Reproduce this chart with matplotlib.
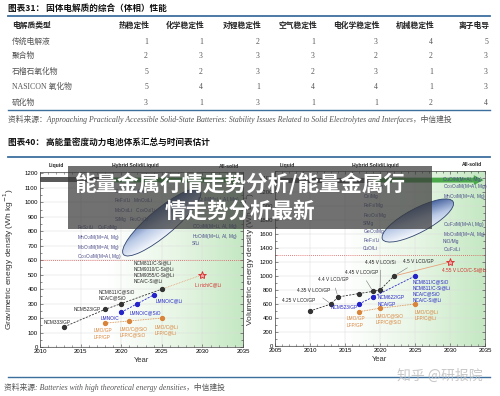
import numpy as np
import matplotlib
matplotlib.use("Agg")
import matplotlib.pyplot as plt
import matplotlib.transforms as mtransforms
from matplotlib.patches import Ellipse, Rectangle, FancyArrow
from matplotlib.colors import LinearSegmentedColormap
from matplotlib.ticker import MultipleLocator

plt.rcParams['font.family'] = ['Noto Sans CJK SC', 'DejaVu Sans']

# tabela 31
table_title = "图表31： 固体电解质的综合（体相）性能"
table_cols = ['热稳定性', '化学稳定性', '对锂稳定性', '空气稳定性', '电化学稳定性', '机械稳定性', '离子电导']
table_rows = ['传统电解液', '聚合物', '石榴石氧化物', 'NASICON 氧化物', '硫化物']
table_vals = [[1, 1, 2, 1, 3, 4, 5],
              [2, 3, 3, 3, 2, 2, 3],
              [5, 2, 3, 2, 3, 1, 3],
              [5, 4, 1, 4, 4, 1, 3],
              [3, 1, 3, 1, 1, 2, 4]]
table_source = ("资料来源：Approaching Practically Accessible Solid-State Batteries: "
                "Stability Issues Related to Solid Electrolytes and Interfaces，中信建投")

# wykres 40
chart_title = "图表40： 高能量密度动力电池体系汇总与时间表估计"
chart_source = "资料来源: Batteries with high theoretical energy densities，中信建投"

grav_black_year = [2013, 2018, 2020, 2025]
grav_black = [140, 260, 300, 400]
grav_blue_year = [2020, 2022, 2024]
grav_blue = [240, 300, 360]
grav_orange_year = [2018, 2021, 2025]
grav_orange = [165, 180, 200]
grav_star_year = [2030]
grav_star = [500]

vol_black_year = [2010, 2013, 2014, 2017, 2019, 2020, 2022]
vol_black = [500, 600, 700, 750, 780, 800, 1000]
vol_blue_year = [2017, 2019, 2025]
vol_blue = [600, 700, 1000]
vol_orange_year = [2017, 2020, 2025]
vol_orange = [490, 540, 600]
vol_star_year = [2030]
vol_star = [1200]

W, H = 500, 396
fig = plt.figure(figsize=(W / 100, H / 100), dpi=100)


def P(x, y):
    return x / W, 1 - y / H


BLUE_LINE = '#3d6f9e'
GREY_TXT = '#555555'

# ---- tabela ----
fig.text(*P(8, 8), table_title, fontsize=6.2, fontweight='bold', va='center', color='#111111')
fig.add_artist(plt.Line2D([8 / W, 490 / W], [1 - 16 / H] * 2, color=BLUE_LINE, lw=1.3))
fig.add_artist(plt.Line2D([8 / W, 490 / W], [1 - 110 / H] * 2, color=BLUE_LINE, lw=1.0))

col_x = [150, 205, 262, 317, 380, 435, 490]
row_y = [42, 56, 72, 87, 103]
fig.text(*P(12, 25), '电解质类型', fontsize=5.6, fontweight='bold', va='center', color='#222222')
for cx, name in zip(col_x, table_cols):
    fig.text(*P(cx, 25), name, fontsize=5.6, fontweight='bold', va='center', ha='right', color='#222222')
for ry, name, vals in zip(row_y, table_rows, table_vals):
    fig.text(*P(12, ry), name, fontsize=5.6, va='center', color=GREY_TXT,
             family=['Liberation Serif', 'Noto Sans CJK SC'])
    for cx, v in zip(col_x, vals):
        fig.text(*P(cx - 2, ry), str(v), fontsize=5.6, va='center', ha='right', color=GREY_TXT,
                 family=['Liberation Serif', 'Noto Sans CJK SC'])

fig.text(*P(8, 119), table_source, fontsize=5.6, va='center', color=GREY_TXT, style='italic',
         family=['Liberation Serif', 'Noto Sans CJK SC'])

fig.text(*P(8, 142), chart_title, fontsize=6.2, fontweight='bold', va='center', color='#111111')
fig.add_artist(plt.Line2D([8 / W, 490 / W], [1 - 157 / H] * 2, color=BLUE_LINE, lw=1.3))
fig.add_artist(plt.Line2D([8 / W, 490 / W], [1 - 377 / H] * 2, color=BLUE_LINE, lw=1.0))
fig.text(*P(4, 387), chart_source, fontsize=5.6, va='center', color=GREY_TXT, style='italic',
         family=['Liberation Serif', 'Noto Sans CJK SC'])

# ---- osie ----
ax1 = fig.add_axes([40 / W, 1 - 347 / H, 203 / W, 175 / H])
ax2 = fig.add_axes([275 / W, 1 - 346 / H, 210 / W, 175 / H])

SANS = ['Liberation Sans', 'DejaVu Sans']
green_cmap = LinearSegmentedColormap.from_list('bg', ['#ffffff', '#ffffff', '#e8f6e6', '#c4e8c2'])
blue_cmap = LinearSegmentedColormap.from_list('el', ['#f4f7fc', '#b9c9e6', '#4d68a3'])


def przygotuj(ax, xlim, ylim, ystep, yminor, ylabel, xticks):
    g = np.linspace(0, 1, 256)[None, :]
    ax.imshow(np.vstack([g, g]), extent=[0, 1, 0, 1], transform=ax.transAxes, cmap=green_cmap,
              aspect='auto', zorder=0, interpolation='bilinear')
    ax.set_xlim(*xlim)
    ax.set_ylim(*ylim)
    ax.set_xticks(xticks)
    ax.set_yticks(np.arange(0, ylim[1], ystep))
    ax.xaxis.set_minor_locator(MultipleLocator(1))
    ax.yaxis.set_minor_locator(MultipleLocator(yminor))
    ax.grid(True, which='major', color='#dcdcdc', lw=0.35)
    ax.tick_params(which='both', direction='in', top=True, right=True, width=0.4, color='#333333')
    ax.tick_params(which='major', length=2.2, labelsize=4.3, pad=1.5)
    ax.tick_params(which='minor', length=1.2)
    for lab in ax.get_xticklabels() + ax.get_yticklabels():
        lab.set_family(SANS)
    for s in ax.spines.values():
        s.set_linewidth(0.5)
        s.set_color('#444444')
    ax.set_xlabel('Year', fontsize=5.5, family=SANS, labelpad=2, color='#333333')
    ax.set_ylabel(ylabel, fontsize=6, family=SANS, labelpad=2, color='#333333')
    ax.set_axisbelow(True)


przygotuj(ax1, (2010, 2035), (0, 1210), 100, 50, 'Gravimetric energy density (Wh kg$^{-1}$)',
          [2010, 2015, 2020, 2025, 2030, 2035])
przygotuj(ax2, (2005, 2035), (0, 2500), 200, 100, 'Volumetric energy density (Wh L$^{-1}$)',
          [2005, 2010, 2015, 2020, 2025, 2030, 2035])
ax1.yaxis.set_label_coords(-0.12, 0.5)
ax2.yaxis.set_label_coords(-0.085, 0.5)


def naglowki(ax, xs):
    for x, t in zip(xs, ['Liquid', 'Hybrid Solid/Liquid', 'All-solid']):
        ax.text(x, 1.02, t, transform=ax.transAxes, fontsize=3.6, fontweight='bold', family=SANS,
                ha='center', va='bottom', color='#222222')


naglowki(ax1, [0.08, 0.47, 0.93])
naglowki(ax2, [0.06, 0.48, 0.94])


def pasek(ax, x0, xs, x1, y, h, hl):
    ax.add_patch(Rectangle((x0, y - h / 2), xs - x0, h, facecolor='#5a5a5a', edgecolor='none', zorder=2))
    ax.add_patch(FancyArrow(xs, y, x1 - xs - hl, 0, width=h, head_width=h * 2, head_length=hl,
                            length_includes_head=False, facecolor='#4aa84a', edgecolor='none', zorder=2))


pasek(ax1, 2010, 2019, 2034.8, 1155, 34, 1.2)
pasek(ax2, 2005, 2019, 2034.8, 2370, 70, 1.4)

ax1.axhline(600, color='#d9534f', lw=0.6, ls=(0, (1, 1.5)), zorder=2)
ax2.axhline(1300, color='#d9534f', lw=0.6, ls=(0, (1, 1.5)), zorder=2)


def elipsa(ax, cx, cy, length, width, angle):
    trans = fig.dpi_scale_trans + mtransforms.ScaledTranslation(cx, cy, ax.transData)
    e = Ellipse((0, 0), length / 100, width / 100, angle=angle, transform=trans,
                facecolor='none', edgecolor='#2f446f', lw=0.6, zorder=4)
    ax.add_patch(e)
    x0, x1 = ax.get_xlim()
    y0, y1 = ax.get_ylim()
    pos = ax.get_position()
    sx = pos.width * W / (x1 - x0)
    sy = pos.height * H / (y1 - y0)
    X, Y = np.meshgrid(np.linspace(x0, x1, 400), np.linspace(y0, y1, 400))
    u = (X - cx) * sx
    v = (Y - cy) * sy
    a = np.radians(angle)
    along = u * np.cos(a) + v * np.sin(a)
    perp = -u * np.sin(a) + v * np.cos(a)
    t = 0.5 + 0.45 * perp / (width / 2) + 0.25 * along / (length / 2)
    im = ax.imshow(np.clip(t, 0, 1), extent=[x0, x1, y0, y1], origin='lower', cmap=blue_cmap,
                   aspect='auto', zorder=3, vmin=0, vmax=1)
    im.set_clip_path(e)
    ax.set_xlim(x0, x1)
    ax.set_ylim(y0, y1)


elipsa(ax1, 2025, 862, 100, 26, 40)
elipsa(ax2, 2025.4, 1793, 80, 24, 28)

C_BLUE, C_ORANGE, C_RED = '#2323c8', '#d9843b', '#d42a2a'
LAB = dict(fontsize=3.4, family=SANS, va='center', zorder=6)


def serie(ax, xs, ys, color, ls):
    ax.plot(xs, ys, color=color, lw=0.6, ls=ls, marker='o', ms=2.8, mec=color, mfc=color, zorder=5)


# lewy wykres
ax1.plot([grav_black_year[-1], grav_star_year[0]], [grav_black[-1], grav_star[0]],
         color='#e8a07a', lw=0.6, ls=(0, (1, 1)), zorder=4)
serie(ax1, grav_black_year, grav_black, '#333333', (0, (2.5, 1.5)))
serie(ax1, grav_blue_year, grav_blue, C_BLUE, (0, (2.5, 1.5)))
serie(ax1, grav_orange_year, grav_orange, C_ORANGE, (0, (1, 1)))
ax1.plot(grav_star_year, grav_star, marker='*', ms=6, mec=C_RED, mfc='#f3a0a0', mew=0.6, ls='none', zorder=6)

ax1.text(2012.1, 172, 'NCM333/GP', ha='center', color='#222222', **LAB)
ax1.text(2017.5, 262, 'NCM523/GP', ha='right', color='#222222', **LAB)
ax1.text(2017.25, 359, 'NCM811/C@SiO\nNCA/C@SiO', ha='left', color='#222222', linespacing=1.2, **LAB)
ax1.text(2021.5, 517, 'NCM811/C-Si@Li\nNCM9010/C-Si@Li\nNCM9055/C-Si@Li\nNCA/C-Si@Li', ha='left',
         color='#222222', linespacing=1.25, **LAB)
ax1.text(2017.5, 200, 'LMNO/C', ha='left', color=C_BLUE, **LAB)
ax1.text(2021, 234, 'LMNO/C@SiO', ha='left', color=C_BLUE, **LAB)
ax1.text(2024.25, 317, 'LMNO/C@Li', ha='left', color=C_BLUE, **LAB)
ax1.text(2016.6, 90, 'LMO/GP\nLFP/GP', ha='left', color=C_ORANGE, linespacing=1.3, **LAB)
ax1.text(2019.75, 103, 'LMO/C@SiO\nLFP/C@SiO', ha='left', color=C_ORANGE, linespacing=1.3, **LAB)
ax1.text(2024.1, 117, 'LMO/C@Li\nLFP/C@Li', ha='left', color=C_ORANGE, linespacing=1.3, **LAB)
ax1.text(2029.1, 428, 'Li rich/C@Li', ha='left', color=C_RED, **LAB)

ax1.text(2019.1, 979, 'O$_2$/Na   CuF$_2$/Li\nFeF$_3$/Li   MnO$_2$/Li\nMoO$_3$/Li   Co$_3$O$_4$/Li\nS/Mg   Fe$_2$O$_3$/Li',
         ha='left', color='#4a4a8a', linespacing=1.1, **LAB)
ax1.text(2014.6, 724, 'FeS$_2$/Li   CuF$_2$/Mg\nMnO$_2$/M(M=Al, Mg)\nMoO$_3$/M(M=Al, Mg)\nCo$_3$O$_4$/M(M=Al, Mg)',
         ha='left', color='#4a4a8a', linespacing=1.1, **LAB)
ax1.text(2028.75, 779, 'CO$_2$/M(M=Li, Al, Mg)\nH$_2$O/M(M=Li, Al, Mg)\nS/Li',
         ha='left', color='#4a4a8a', linespacing=1.1, **LAB)
ax1.text(2029.3, 1020, 'O$_2$/M(M=Li, Al, Mg)', ha='left', color='#4a4a8a', **LAB)

# prawy wykres
ax2.plot([vol_black_year[-1], vol_star_year[0]], [vol_black[-1], vol_star[0]],
         color='#e8a07a', lw=0.6, zorder=4)
serie(ax2, vol_black_year, vol_black, '#333333', (0, (2.5, 1.5)))
serie(ax2, vol_blue_year, vol_blue, C_BLUE, (0, (2.5, 1.5)))
serie(ax2, vol_orange_year, vol_orange, C_ORANGE, (0, (1, 1)))
ax2.plot(vol_star_year, vol_star, marker='*', ms=6, mec=C_RED, mfc='#f3a0a0', mew=0.6, ls='none', zorder=6)

ARR = dict(arrowstyle='-', color='#666666', lw=0.35)
ax2.text(2006.0, 643, '4.25 V LCO/GP', ha='left', color='#222222', **LAB)
ax2.annotate('4.35 V LCO/GP', xy=(vol_black_year[1], vol_black[1]), xytext=(2008.1, 786),
             ha='left', color='#222222', arrowprops=ARR, **LAB)
ax2.annotate('4.4 V LCO/GP', xy=(vol_black_year[2], vol_black[2]), xytext=(2011.1, 943),
             ha='left', color='#222222', arrowprops=ARR, **LAB)
ax2.annotate('4.45 V LCO/GP', xy=(vol_black_year[4], vol_black[4]), xytext=(2015, 1043),
             ha='left', color='#222222', arrowprops=ARR, **LAB)
ax2.annotate('4.45 V LCO/Si', xy=(vol_black_year[5], vol_black[5]), xytext=(2017.9, 1200),
             ha='left', color='#222222', arrowprops=ARR, **LAB)
ax2.annotate('4.5 V LCO/GP', xy=(vol_black_year[6], vol_black[6]), xytext=(2023.3, 1214),
             ha='left', color='#222222', arrowprops=ARR, **LAB)
ax2.text(2028.9, 1086, '4.55 V LCO/C-Si@Li', ha='left', color=C_RED, **LAB)
ax2.text(2016.8, 543, 'NCM523/GP', ha='right', color=C_BLUE, **LAB)
ax2.text(2019.7, 643, 'NCM622/GP\nNCA/GP', ha='left', color=C_BLUE, linespacing=1.3, **LAB)
ax2.text(2024.6, 786, 'NCM811/C@SiO\nNCM811/C-Si@Li\nNCA/C@SiO\nNCA/C-Si@Li', ha='left',
         color=C_BLUE, linespacing=1.25, **LAB)
ax2.text(2015.3, 343, 'LMO/GP\nLFP/GP', ha='left', color=C_ORANGE, linespacing=1.3, **LAB)
ax2.text(2019.4, 386, 'LMO/C@SiO\nLFP/C@SiO', ha='left', color=C_ORANGE, linespacing=1.3, **LAB)
ax2.text(2025, 443, 'LMO/C@Li\nLFP/C@Li', ha='left', color=C_ORANGE, linespacing=1.3, **LAB)

ax2.text(2017.6, 2070, 'FeS$_2$/Mg\nO$_2$/Mg\nFeF$_3$/Mg\nFe$_2$O$_3$/Mg', ha='left', color='#4a4a8a',
         linespacing=1.1, **LAB)
ax2.text(2017.6, 1571, 'S/Mg\nGeO$_2$/Mg\nFeF$_3$/Li\nCuO/Li', ha='left', color='#4a4a8a',
         linespacing=1.1, **LAB)
ax2.text(2029, 2243, 'CuO/M(M=Al, Mg)\nCo$_3$O$_4$/M(M=Al, Mg)\nMnO$_2$/M(M=Al, Mg)', ha='left',
         color='#4a4a8a', linespacing=1.1, **LAB)
ax2.text(2029, 1557, 'CuF$_2$/M(M=Al, Mg)\nMoO$_3$/M(M=Al, Mg)\nNiO/Mg\nCuF$_2$/Li', ha='left',
         color='#4a4a8a', linespacing=1.1, **LAB)

# ---- baner i znak wodny ----
fig.add_artist(Rectangle(P(68, 229), 364 / W, 63 / H, transform=fig.transFigure,
                         facecolor='#3a3a3a', edgecolor='none', alpha=0.72, zorder=20))
fig.text(*P(240, 184), '能量金属行情走势分析/能量金属行', fontsize=15.5, fontweight='bold',
         color='white', ha='center', va='center', zorder=21)
fig.text(*P(240, 211), '情走势分析最新', fontsize=15.5, fontweight='bold',
         color='white', ha='center', va='center', zorder=21)
fig.text(*P(440, 376), '知乎 @研报院', fontsize=10, color='#bbbbbb', alpha=0.8,
         ha='center', va='center', zorder=21)

plt.savefig("out.png", dpi=100)
